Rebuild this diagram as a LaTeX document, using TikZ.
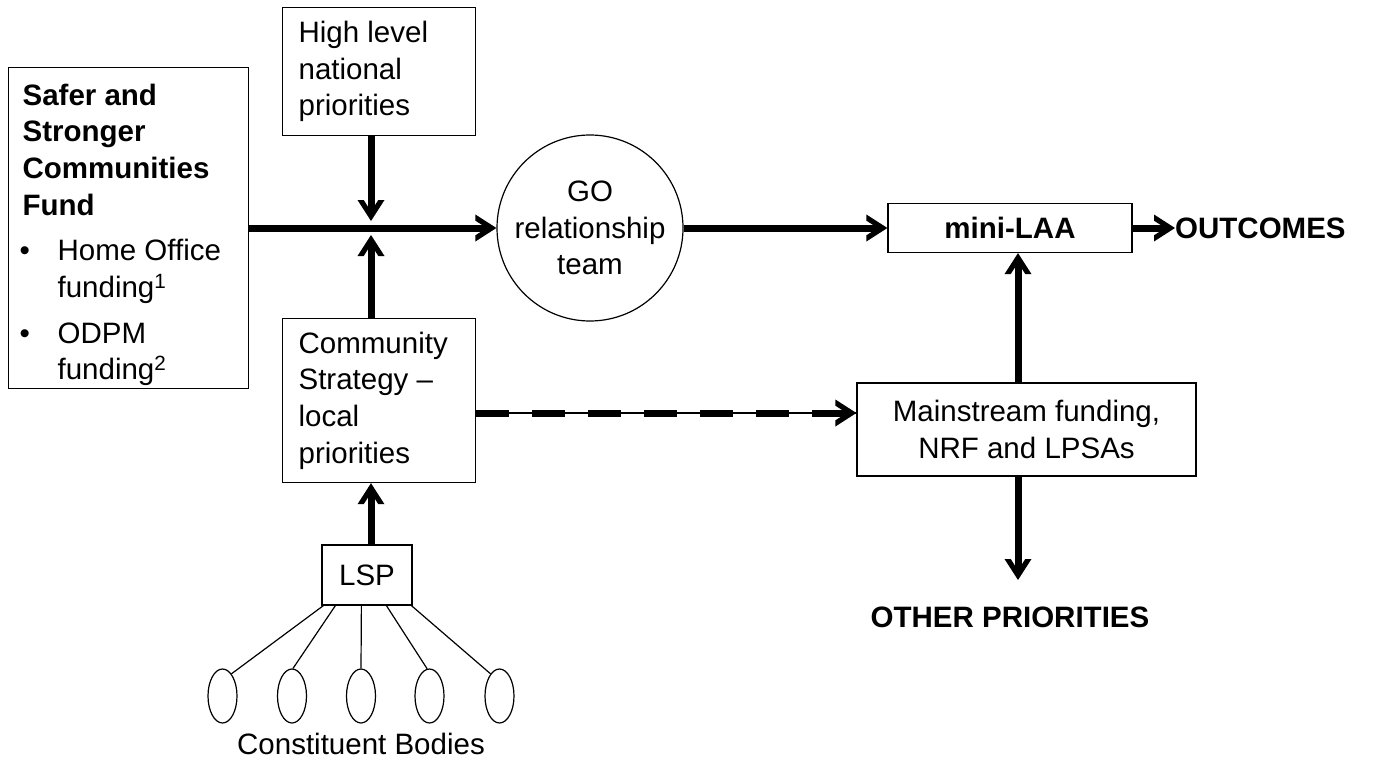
\documentclass[tikz,border=0pt]{standalone}
\usepackage{fontspec}
\setmainfont{Liberation Sans}
\usetikzlibrary{arrows.meta,calc,shapes.geometric}
\newcommand\dfont{\fontsize{29.5}{36.7}\selectfont}
\pgfdeclarearrow{
  name = Chev,
  parameters = {},
  setup code = {
    \pgfarrowssettipend{0pt}
    \pgfarrowssetlineend{-7pt}
    \pgfarrowssetbackend{-21pt}
    \pgfarrowshullpoint{0pt}{0pt}
    \pgfarrowshullpoint{-21pt}{13.5pt}
    \pgfarrowshullpoint{-21pt}{-13.5pt}
  },
  drawing code = {
    \pgfpathmoveto{\pgfqpoint{0pt}{0pt}}
    \pgfpathlineto{\pgfqpoint{-21pt}{13.5pt}}
    \pgfpathlineto{\pgfqpoint{-21pt}{7.3pt}}
    \pgfpathlineto{\pgfqpoint{-9.6pt}{0pt}}
    \pgfpathlineto{\pgfqpoint{-21pt}{-7.3pt}}
    \pgfpathlineto{\pgfqpoint{-21pt}{-13.5pt}}
    \pgfpathclose
    \pgfusepathqfill
  }
}
\begin{document}
\begin{tikzpicture}[x=1pt,y=-1pt,
  every node/.style={font=\dfont},
  box/.style={draw,line width=1.2pt,rectangle,inner ysep=0pt},
  thk/.style={line width=7pt,-Chev},
  thinline/.style={line width=1.2pt}]
\useasboundingbox (0,0) rectangle (1376,773);
% nodes
\node[box,anchor=north west,text width=212pt,inner xsep=14pt,minimum height=321pt,align=flush left] (sscf) at (8,67)
 {\rule{0pt}{35pt}\textbf{Safer and\\Stronger\\Communities\\Fund}\\[9pt]
  \makebox[35pt][l]{\hspace*{-3pt}\textbullet}Home Office\\
  \hspace*{35pt}funding\textsuperscript{1}\\[9pt]
  \makebox[35pt][l]{\hspace*{-3pt}\textbullet}ODPM\\
  \hspace*{35pt}funding\textsuperscript{2}};
\node[box,anchor=north west,text width=161pt,inner xsep=16pt,minimum height=128pt,align=flush left] (hl) at (282,7)
 {High level\\national\\priorities};
\node[box,anchor=north west,text width=161pt,inner xsep=16pt,minimum height=164pt,align=flush left] (cs) at (282,318)
 {Community\\Strategy --\\local\\priorities};
\node[draw,circle,line width=1.2pt,minimum size=186pt,inner sep=0pt,align=center] (go) at (590,228)
 {GO\\relationship\\team};
\node[box,minimum width=244pt,minimum height=49pt,font=\dfont\bfseries] (mini) at (1010,228) {mini-LAA};
\node[anchor=west,inner sep=0pt,font=\dfont\bfseries] (out) at (1175,228) {OUTCOMES};
\node[box,minimum width=339pt,minimum height=93pt,align=center] (ms) at (1026.5,429.5)
 {Mainstream funding,\\NRF and LPSAs};
\node[font=\dfont\bfseries] (op) at (1010,617) {OTHER PRIORITIES};
\node[box,minimum width=90pt,minimum height=60pt,inner xsep=0pt] (lsp) at (367,575) {LSP};
\foreach \i/\x in {1/222.5,2/292,3/361,4/429.5,5/499.5}
  \node[draw,ellipse,line width=1.2pt,minimum width=29pt,minimum height=54pt,inner sep=0pt] (e\i) at (\x,696) {};
\node (cb) at (361,744) {Constituent Bodies};
% coordinates
\coordinate (j) at (371,228);
\coordinate (jt) at (371,221);
\coordinate (jb) at (371,235);
\coordinate (dashy) at (0,413);
\coordinate (colx) at (1018,0);
\coordinate (opin) at (1018,580);
% connectors
\draw[thk] (sscf.east |- go.west) -- (go.west);
\draw[thk] (hl.south -| j) -- (jt);
\draw[thk] (cs.north -| j) -- (jb);
\draw[thk] (go.east) -- (mini.west);
\draw[thk] (mini.east) -- (out.west);
\draw[thk] (ms.north -| colx) -- (mini.south -| colx);
\draw[thk] (ms.south -| colx) -- (opin);
\draw[thk] (lsp.north -| j) -- (cs.south -| j);
\draw[thinline] (cs.east |- dashy) -- (ms.west |- dashy);
\draw[line width=7pt,dash pattern=on 33pt off 23pt,-Chev] (cs.east |- dashy) -- (ms.west |- dashy);
\draw[thinline] ($(lsp.south west)+(2,0)$) -- (e1.68);
\draw[thinline] ($(lsp.south west)+(14,0)$) -- (e2.88);
\draw[thinline] ($(lsp.south west)+(40,0)$) -- (e3.north);
\draw[thinline] ($(lsp.south west)+(65,0)$) -- (e4.95);
\draw[thinline] ($(lsp.south west)+(90,0)$) -- (e5.112);
\end{tikzpicture}
\end{document}
